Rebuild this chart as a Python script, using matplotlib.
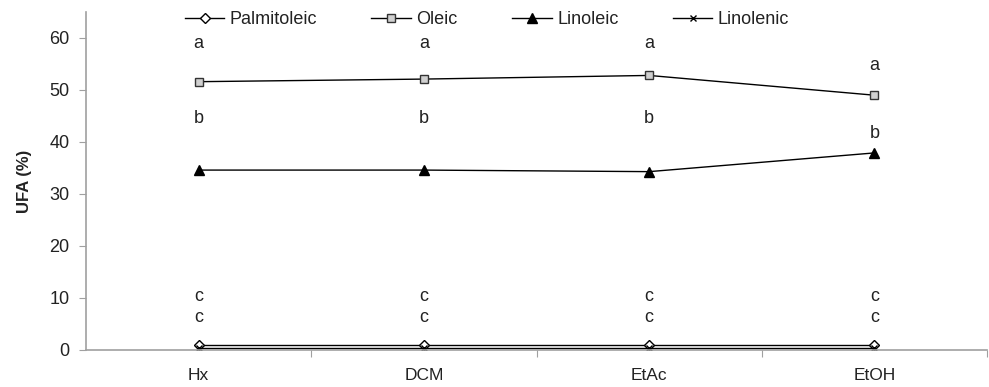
import matplotlib
matplotlib.use("Agg")
import matplotlib.pyplot as plt
import numpy as np

plt.rcParams['font.family'] = ['Liberation Sans', 'DejaVu Sans']

solvents = ["Hx", "DCM", "EtAc", "EtOH"]
palmitoleic = [1.0, 1.0, 1.0, 1.0]
oleic = [51.6, 52.1, 52.8, 49.0]
linoleic = [34.6, 34.6, 34.3, 37.9]
linolenic = [0.4, 0.4, 0.4, 0.4]

letters_a = ["a", "a", "a", "a"]
letters_a_y = [59.0, 59.0, 59.0, 54.8]
letters_b = ["b", "b", "b", "b"]
letters_b_y = [44.6, 44.6, 44.6, 41.7]
letters_c = ["c", "c", "c", "c"]
letters_c_y1 = [10.2, 10.2, 10.2, 10.2]
letters_c_y2 = [6.2, 6.2, 6.2, 6.2]

fig = plt.figure(figsize=(9.89, 3.87), dpi=100)
ax = fig.add_axes([86/989, 1-350/387, 901/989, 338/387])

x = np.arange(len(solvents)) + 0.5
ax.plot(x, palmitoleic, color='black', lw=1, marker='D', ms=5, mfc='white', mec='black', mew=1, label='Palmitoleic')
ax.plot(x, oleic, color='black', lw=1, marker='s', ms=5.5, mfc='#d0d0d0', mec='#333333', mew=1, label='Oleic')
ax.plot(x, linoleic, color='black', lw=1, marker='^', ms=7, mfc='black', mec='black', label='Linoleic')
ax.plot(x, linolenic, color='black', lw=1, marker='x', ms=5, mew=1, label='Linolenic')

for xi, t, y in zip(x, letters_a, letters_a_y):
    ax.text(xi, y, t, ha='center', va='center', fontsize=13, color='#222222')
for xi, t, y in zip(x, letters_b, letters_b_y):
    ax.text(xi, y, t, ha='center', va='center', fontsize=13, color='#222222')
for xi, t, y in zip(x, letters_c, letters_c_y1):
    ax.text(xi, y, t, ha='center', va='center', fontsize=13, color='#222222')
for xi, t, y in zip(x, letters_c, letters_c_y2):
    ax.text(xi, y, t, ha='center', va='center', fontsize=13, color='#222222')

ax.set_xlim(0, 4)
ax.set_ylim(0, 65)
ax.set_yticks([0, 10, 20, 30, 40, 50, 60])
ax.set_xticks([1, 2, 3, 4])
ax.set_xticklabels([])
ax.set_xticks(x, minor=True)
ax.set_xticklabels(solvents, minor=True)
ax.tick_params(axis='x', which='minor', length=0, pad=13, labelsize=12.5, labelcolor='#222222')
ax.tick_params(axis='x', which='major', length=5, color='#a0a0a0', direction='out')
ax.tick_params(axis='y', length=5, color='#a0a0a0', labelsize=13, labelcolor='#222222', pad=7)

for s in ['top', 'right']:
    ax.spines[s].set_visible(False)
for s in ['left', 'bottom']:
    ax.spines[s].set_color('#a0a0a0')
    ax.spines[s].set_linewidth(1.2)

ax.set_ylabel('UFA (%)', fontsize=12, fontweight='bold', labelpad=12, color='#222222')

ax.legend(loc='upper center', bbox_to_anchor=(0.445, 1.05), ncol=4, frameon=False,
          fontsize=13, handlelength=2.2, columnspacing=3.0, handletextpad=0.3,
          labelcolor='#222222')

fig.savefig('out.png', dpi=100)
